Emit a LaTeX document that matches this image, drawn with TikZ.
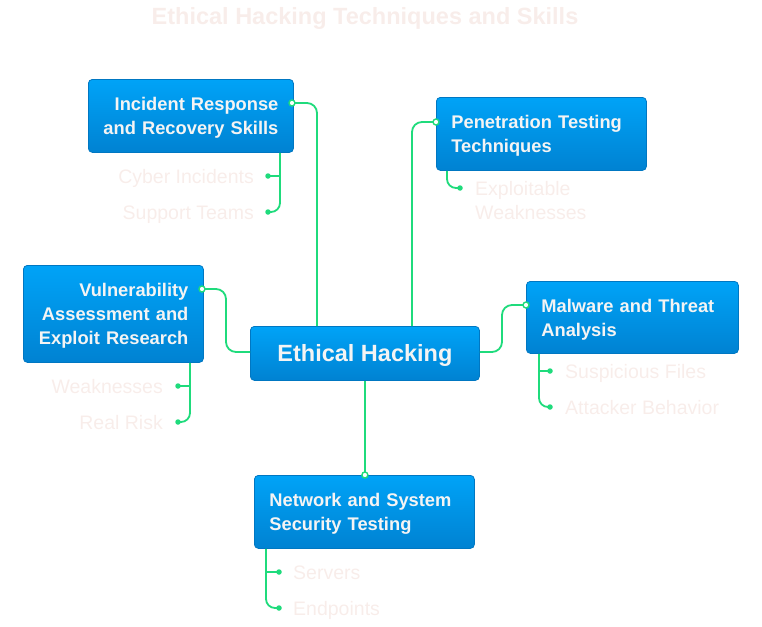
\documentclass[tikz,border=0pt]{standalone}
\usepackage{fontspec}
\setmainfont{Liberation Sans}
\definecolor{boxtop}{HTML}{00A3F7}
\definecolor{boxbot}{HTML}{0082D2}
\definecolor{boxedge}{HTML}{0077C2}
\definecolor{linkc}{HTML}{1FDB7C}
\definecolor{leafc}{HTML}{F8EDEA}
\definecolor{boxtext}{HTML}{F4F4F4}
\newcommand{\topstrut}{\rule{0pt}{17.5pt}}
\begin{document}
\begin{tikzpicture}[x=1pt,y=-1pt,
  box/.style={draw=boxedge, line width=0.8pt, rounded corners=4pt, top color=boxtop, bottom color=boxbot,
    text=boxtext, font=\fontsize{18.3}{24}\selectfont\bfseries, inner xsep=0pt, inner ysep=0pt, anchor=north west},
  link/.style={draw=linkc, line width=1.8pt, rounded corners=10pt},
  leaflink/.style={draw=linkc, line width=1.8pt, rounded corners=9pt},
  leaf/.style={text=leafc, font=\fontsize{19.5}{24}\selectfont, inner sep=0pt},
  odot/.style={circle, draw=linkc, fill=white, line width=1.4pt, inner sep=0pt, minimum size=6pt},
  fdot/.style={circle, fill=linkc, inner sep=0pt, minimum size=5.5pt},
]
\useasboundingbox (0,0) rectangle (762,626);
\node[text=leafc, font=\fontsize{23.5}{26}\selectfont\bfseries] (title) at (365,18) {Ethical Hacking Techniques and Skills};

\coordinate (irp) at (292,103);
\coordinate (ptp) at (436,122);
\coordinate (vap) at (202,289);
\coordinate (mwp) at (526,305);

% boxes
\node[box, minimum width=229pt, minimum height=54pt, font=\fontsize{23.5}{26}\selectfont\bfseries, align=center] (eh) at (250,326) {\rule{0pt}{21pt}Ethical Hacking};
\node[box, minimum width=205pt, minimum height=73pt, text width=175pt, align=right] (ir) at (88,79) {\topstrut Incident Response\\and Recovery Skills};
\node[box, minimum width=210pt, minimum height=73pt, text width=180pt, align=left] (pt) at (436,97) {\topstrut Penetration Testing\\Techniques};
\node[box, minimum width=180pt, minimum height=97pt, text width=150pt, align=right] (va) at (23,265) {\topstrut Vulnerability\\Assessment and\\Exploit Research};
\node[box, minimum width=212pt, minimum height=72pt, text width=182pt, align=left] (mw) at (526,281) {\topstrut Malware and Threat\\Analysis};
\node[box, minimum width=220pt, minimum height=73pt, text width=190pt, align=left] (ns) at (254,475) {\topstrut Network and System\\Security Testing};
\coordinate (nsp) at (eh.south |- ns.north);

% main connectors
\draw[link] (irp) -- (317,103) -- (eh.north -| 317,0);
\draw[link] (eh.north -| 412,0) -- (412,122) -- (ptp);
\draw[link] (vap) -- (226,289) -- (226,352) -- (eh.west |- 0,352);
\draw[link] (eh.east |- 0,352) -- (502,352) -- (502,305) -- (mwp);
\draw[link] (eh.south) -- (nsp);

% leaves
\node[leaf, anchor=base east] (l1) at (254,183) {Cyber Incidents};
\node[leaf, anchor=base east] (l2) at (254,219) {Support Teams};
\node[leaf, anchor=base west, align=left] (l3) at (475,219) {Exploitable\\Weaknesses};
\node[leaf, anchor=base east] (l4) at (163,393) {Weaknesses};
\node[leaf, anchor=base east] (l5) at (163,429) {Real Risk};
\node[leaf, anchor=base west] (l6) at (565,378) {Suspicious Files};
\node[leaf, anchor=base west] (l7) at (565,414) {Attacker Behavior};
\node[leaf, anchor=base west] (l8) at (293,579) {Servers};
\node[leaf, anchor=base west] (l9) at (293,615) {Endpoints};

\coordinate (d1) at (268,176);
\coordinate (d2) at (268,212);
\coordinate (d3) at (460,188);
\coordinate (d4) at (178,386);
\coordinate (d5) at (178,422);
\coordinate (d6) at (550,371);
\coordinate (d7) at (550,407);
\coordinate (d8) at (279,572);
\coordinate (d9) at (279,608);

\draw[leaflink] (ir.south -| 280,0) -- (280,212) -- (d2);
\draw[leaflink, rounded corners=0pt] (280,176) -- (d1);
\draw[leaflink] (pt.south -| 447,0) -- (447,188) -- (d3);
\draw[leaflink] (va.south -| 190,0) -- (190,422) -- (d5);
\draw[leaflink, rounded corners=0pt] (190,386) -- (d4);
\draw[leaflink] (mw.south -| 539,0) -- (539,407) -- (d7);
\draw[leaflink, rounded corners=0pt] (539,371) -- (d6);
\draw[leaflink] (ns.south -| 266,0) -- (266,608) -- (d9);
\draw[leaflink, rounded corners=0pt] (266,572) -- (d8);

\foreach \d in {d1,d2,d3,d4,d5,d6,d7,d8,d9} \node[fdot] at (\d) {};
\foreach \d in {irp,ptp,vap,mwp,nsp} \node[odot] at (\d) {};
\end{tikzpicture}
\end{document}
